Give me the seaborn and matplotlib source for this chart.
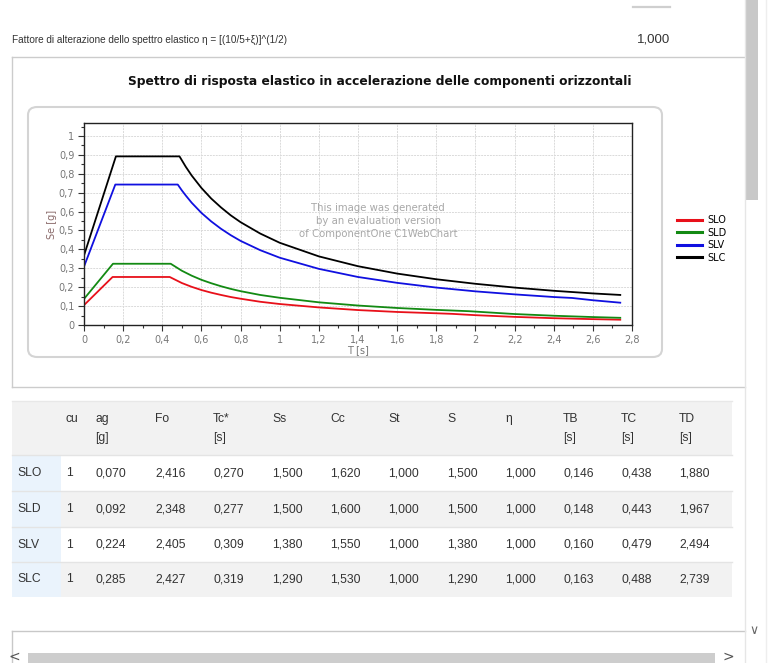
import pandas as pd
import seaborn as sns
import matplotlib.pyplot as plt
from matplotlib.patches import Rectangle, FancyBboxPatch
from matplotlib.lines import Line2D
from matplotlib.ticker import MultipleLocator, FuncFormatter

# 1. Data
series_names = ['SLO', 'SLD', 'SLV', 'SLC']
series_colors = ['#e8101a', '#138a13', '#1010e0', '#000000']

t_slo = [0, 0.146, 0.438, 0.5, 0.55, 0.6, 0.65, 0.7, 0.75, 0.8, 0.9, 1.0, 1.2, 1.4, 1.6, 1.8, 1.88, 2.0, 2.2, 2.4,
         2.6, 2.74]
se_slo = [0.105, 0.254, 0.254, 0.222, 0.202, 0.185, 0.171, 0.159, 0.148, 0.139, 0.123, 0.111, 0.093, 0.079, 0.069,
          0.062, 0.059, 0.052, 0.043, 0.036, 0.031, 0.028]
t_sld = [0, 0.148, 0.443, 0.5, 0.55, 0.6, 0.65, 0.7, 0.75, 0.8, 0.9, 1.0, 1.2, 1.4, 1.6, 1.8, 1.967, 2.2, 2.4, 2.6,
         2.74]
se_sld = [0.138, 0.324, 0.324, 0.287, 0.261, 0.239, 0.221, 0.205, 0.191, 0.179, 0.159, 0.144, 0.120, 0.103, 0.090,
          0.080, 0.073, 0.058, 0.049, 0.042, 0.038]
t_slv = [0, 0.160, 0.479, 0.5, 0.52, 0.55, 0.6, 0.65, 0.7, 0.75, 0.8, 0.9, 1.0, 1.2, 1.4, 1.6, 1.8, 2.0, 2.2, 2.4,
         2.494, 2.6, 2.74]
se_slv = [0.309, 0.743, 0.743, 0.712, 0.685, 0.647, 0.593, 0.548, 0.509, 0.475, 0.445, 0.396, 0.356, 0.297, 0.254,
          0.223, 0.198, 0.178, 0.162, 0.148, 0.143, 0.131, 0.118]
t_slc = [0, 0.163, 0.488, 0.52, 0.55, 0.6, 0.65, 0.7, 0.75, 0.8, 0.9, 1.0, 1.2, 1.4, 1.6, 1.8, 2.0, 2.2, 2.4, 2.6,
         2.74]
se_slc = [0.368, 0.892, 0.892, 0.837, 0.791, 0.725, 0.669, 0.622, 0.580, 0.544, 0.484, 0.435, 0.363, 0.311, 0.272,
          0.242, 0.218, 0.198, 0.181, 0.167, 0.159]

# table under the chart
head_top = ['', 'cu', 'ag', 'Fo', 'Tc*', 'Ss', 'Cc', 'St', 'S', 'η', 'TB', 'TC', 'TD']
head_bottom = ['', '', '[g]', '', '[s]', '', '', '', '', '', '[s]', '[s]', '[s]']
row_slo = ['SLO', '1', '0,070', '2,416', '0,270', '1,500', '1,620', '1,000', '1,500', '1,000', '0,146', '0,438', '1,880']
row_sld = ['SLD', '1', '0,092', '2,348', '0,277', '1,500', '1,600', '1,000', '1,500', '1,000', '0,148', '0,443', '1,967']
row_slv = ['SLV', '1', '0,224', '2,405', '0,309', '1,380', '1,550', '1,000', '1,380', '1,000', '0,160', '0,479', '2,494']
row_slc = ['SLC', '1', '0,285', '2,427', '0,319', '1,290', '1,530', '1,000', '1,290', '1,000', '0,163', '0,488', '2,739']

frames = []
for name, t, se in zip(series_names, [t_slo, t_sld, t_slv, t_slc], [se_slo, se_sld, se_slv, se_slc]):
    frames.append(pd.DataFrame({'T': t, 'Se': se, 'serie': name}))
df = pd.concat(frames, ignore_index=True)

# 2. Figure in pixel units
W, H = 771, 663
fig = plt.figure(figsize=(W / 100, H / 100), dpi=100)
fig.patch.set_facecolor('white')


def fx(x):
    return x / W


def fy(y):
    return 1 - y / H


def hline(x0, x1, y, color='#cccccc', lw=1.0):
    fig.add_artist(Line2D([fx(x0), fx(x1)], [fy(y), fy(y)], color=color, lw=lw))


def vline(x, y0, y1, color='#cccccc', lw=1.0):
    fig.add_artist(Line2D([fx(x), fx(x)], [fy(y0), fy(y1)], color=color, lw=lw))


def box(x0, y0, x1, y1, color):
    fig.add_artist(Rectangle((fx(x0), fy(y1)), fx(x1) - fx(x0), fy(y0) - fy(y1),
                             facecolor=color, edgecolor='none', zorder=0))


page_font = ['Liberation Sans', 'DejaVu Sans']

# header line of the page
hline(633, 670, 7, color='#cfcfcf', lw=1.6)
fig.text(fx(12), fy(40), 'Fattore di alterazione dello spettro elastico η = [(10/5+ξ)]^(1/2)',
         family=page_font, fontsize=7.2, color='#333333', va='center')
fig.text(fx(637), fy(40), '1,000', family=page_font, fontsize=9.5, color='#333333', va='center')

# outer panel
hline(12, 745, 57)
hline(12, 745, 387)
vline(12, 57, 387)

fig.text(fx(380), fy(81), 'Spettro di risposta elastico in accelerazione delle componenti orizzontali',
         fontsize=8.8, fontweight='bold', ha='center', va='center', color='#111111')

frame = FancyBboxPatch((fx(28), fy(357)), fx(662) - fx(28), fy(107) - fy(357),
                       boxstyle='round,pad=0,rounding_size=0.012', facecolor='white',
                       edgecolor='#d4d4d4', lw=1.5, transform=fig.transFigure, zorder=0)
fig.add_artist(frame)

# 3. Spectrum plot
ax = fig.add_axes([fx(84), fy(325), fx(632) - fx(84), fy(123.3) - fy(325)])
sns.lineplot(data=df, x='T', y='Se', hue='serie', hue_order=series_names,
             palette=dict(zip(series_names, series_colors)), sort=False, estimator=None,
             linewidth=1.3, ax=ax)
ax.set_xlim(0, 2.8)
ax.set_ylim(0, 1.067)
ax.xaxis.set_major_locator(MultipleLocator(0.2))
ax.xaxis.set_minor_locator(MultipleLocator(0.1))
ax.yaxis.set_major_locator(MultipleLocator(0.1))
ax.yaxis.set_minor_locator(MultipleLocator(0.05))
comma = FuncFormatter(lambda v, p: ('%g' % round(v, 2)).replace('.', ','))
ax.xaxis.set_major_formatter(comma)
ax.yaxis.set_major_formatter(comma)
ax.grid(True, which='major', color='#dadada', lw=0.7, ls=(0, (2, 1)))
ax.set_axisbelow(True)
ax.tick_params(which='major', length=4, width=0.8, color='#333333', labelsize=7, labelcolor='#777777', pad=3)
ax.tick_params(which='minor', length=2, width=0.8, color='#333333')
for s in ax.spines.values():
    s.set_color('#222222')
    s.set_linewidth(1.0)
ax.set_xlabel('T [s]', fontsize=7, color='#777777', labelpad=0)
ax.set_ylabel('Se [g]', fontsize=7, color='#8a6a6a', labelpad=1)

ax.text(0.537, 0.515, 'This image was generated\nby an evaluation version\nof ComponentOne C1WebChart',
        transform=ax.transAxes, ha='center', va='center', fontsize=7.3, color='#a8a8a8',
        linespacing=1.35)

ax.legend(loc='center left', bbox_to_anchor=(fx(672), fy(239)), bbox_transform=fig.transFigure,
          frameon=False, fontsize=7, handlelength=2.6, handletextpad=0.5, labelspacing=0.25,
          borderpad=0)
for line in ax.get_legend().get_lines():
    line.set_linewidth(2.2)

# 4. Table with the spectrum parameters
col_x = [17, 65, 95, 155, 213, 272, 330, 388, 447, 505, 563, 621, 679]
row_edges = [455, 491, 527, 562, 597]
row_fill = ['white', '#f2f2f2', 'white', '#f2f2f2']
cell_color = '#333333'

box(12, 401, 732, 455, '#f2f2f2')
hline(12, 732, 401, color='#e8e8e8')
for i, row in enumerate([row_slo, row_sld, row_slv, row_slc]):
    y0, y1 = row_edges[i], row_edges[i + 1]
    box(12, y0, 732, y1, row_fill[i])
    box(12, y0, 61, y1, '#eaf3fc')
    hline(12, 732, y0, color='#e4e4e4')
    yc = (y0 + y1) / 2
    for x, val in zip(col_x, row):
        fig.text(fx(x if val != '1' else 66), fy(yc), val, family=page_font, fontsize=8.7,
                 color=cell_color, va='center')

for x, a, b in zip(col_x, head_top, head_bottom):
    fig.text(fx(x), fy(419), a, family=page_font, fontsize=8.7, color=cell_color, va='center')
    if b:
        fig.text(fx(x), fy(438), b, family=page_font, fontsize=8.7, color=cell_color, va='center')

# 5. Bottom part of the page and scrollbars
hline(12, 745, 631, color='#c8c8c8')
vline(12, 631, 663, color='#c8c8c8')
box(28, 653, 715, 663, '#cdcdcd')
fig.text(fx(8), fy(657), '<', fontsize=10, color='#555555', va='center')
fig.text(fx(722), fy(657), '>', fontsize=10, color='#555555', va='center')
fig.text(fx(749), fy(630), '∨', fontsize=9, color='#666666', va='center')

vline(745, 0, 663, color='#e6e6e6')
box(745, 0, 758, 200, '#c8c8c8')
vline(766, 0, 663, color='#eeeeee')

fig.savefig('out.png', dpi=100, facecolor='white')
